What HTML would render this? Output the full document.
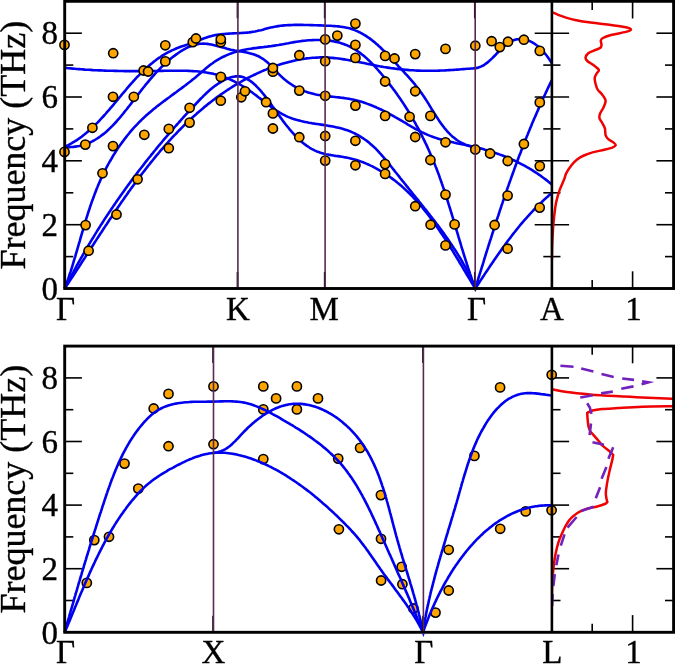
<!DOCTYPE html><html><head><meta charset="utf-8"><style>html,body{margin:0;padding:0;background:#fff;}svg{display:block;}text{font-family:"Liberation Serif",serif;stroke:#000;stroke-width:0.35px;}svg{will-change:transform;}</style></head><body>
<svg width="675" height="664" viewBox="0 0 675 664">
<rect width="675" height="664" fill="#fff"/>
<defs><clipPath id="ct"><rect x="64.7" y="1.3" width="487.2" height="287.2"/></clipPath><clipPath id="cb"><rect x="64.7" y="346.1" width="487.2" height="286.2"/></clipPath><clipPath id="cdt"><rect x="551.9" y="1.3" width="121.7" height="287.2"/></clipPath><clipPath id="cdb"><rect x="551.9" y="346.1" width="121.7" height="286.2"/></clipPath></defs>
<line x1="64.7" y1="256.6" x2="73.3" y2="256.6" stroke="#000" stroke-width="1.6"/>
<line x1="543.3" y1="256.6" x2="560.5" y2="256.6" stroke="#000" stroke-width="1.6"/>
<line x1="665.0" y1="256.6" x2="673.6" y2="256.6" stroke="#000" stroke-width="1.6"/>
<line x1="64.7" y1="224.7" x2="81.9" y2="224.7" stroke="#000" stroke-width="1.6"/>
<line x1="534.6999999999999" y1="224.7" x2="569.1" y2="224.7" stroke="#000" stroke-width="1.6"/>
<line x1="656.4" y1="224.7" x2="673.6" y2="224.7" stroke="#000" stroke-width="1.6"/>
<line x1="64.7" y1="192.8" x2="73.3" y2="192.8" stroke="#000" stroke-width="1.6"/>
<line x1="543.3" y1="192.8" x2="560.5" y2="192.8" stroke="#000" stroke-width="1.6"/>
<line x1="665.0" y1="192.8" x2="673.6" y2="192.8" stroke="#000" stroke-width="1.6"/>
<line x1="64.7" y1="160.8" x2="81.9" y2="160.8" stroke="#000" stroke-width="1.6"/>
<line x1="534.6999999999999" y1="160.8" x2="569.1" y2="160.8" stroke="#000" stroke-width="1.6"/>
<line x1="656.4" y1="160.8" x2="673.6" y2="160.8" stroke="#000" stroke-width="1.6"/>
<line x1="64.7" y1="128.9" x2="73.3" y2="128.9" stroke="#000" stroke-width="1.6"/>
<line x1="543.3" y1="128.9" x2="560.5" y2="128.9" stroke="#000" stroke-width="1.6"/>
<line x1="665.0" y1="128.9" x2="673.6" y2="128.9" stroke="#000" stroke-width="1.6"/>
<line x1="64.7" y1="97.0" x2="81.9" y2="97.0" stroke="#000" stroke-width="1.6"/>
<line x1="534.6999999999999" y1="97.0" x2="569.1" y2="97.0" stroke="#000" stroke-width="1.6"/>
<line x1="656.4" y1="97.0" x2="673.6" y2="97.0" stroke="#000" stroke-width="1.6"/>
<line x1="64.7" y1="65.1" x2="73.3" y2="65.1" stroke="#000" stroke-width="1.6"/>
<line x1="543.3" y1="65.1" x2="560.5" y2="65.1" stroke="#000" stroke-width="1.6"/>
<line x1="665.0" y1="65.1" x2="673.6" y2="65.1" stroke="#000" stroke-width="1.6"/>
<line x1="64.7" y1="33.2" x2="81.9" y2="33.2" stroke="#000" stroke-width="1.6"/>
<line x1="534.6999999999999" y1="33.2" x2="569.1" y2="33.2" stroke="#000" stroke-width="1.6"/>
<line x1="656.4" y1="33.2" x2="673.6" y2="33.2" stroke="#000" stroke-width="1.6"/>
<line x1="592.2" y1="288.5" x2="592.2" y2="279.9" stroke="#000" stroke-width="1.6"/>
<line x1="592.2" y1="1.3" x2="592.2" y2="9.9" stroke="#000" stroke-width="1.6"/>
<line x1="632.6" y1="288.5" x2="632.6" y2="271.3" stroke="#000" stroke-width="1.6"/>
<line x1="632.6" y1="1.3" x2="632.6" y2="18.5" stroke="#000" stroke-width="1.6"/>
<g fill="none" stroke="#0000f0" stroke-width="2.6" stroke-linejoin="round"><path d="M64.7,146.9 66.5,146.0 68.3,145.1 70.0,144.2 71.8,143.2 73.4,142.2 75.1,141.2 76.8,140.1 78.4,139.0 80.0,137.9 81.6,136.7 83.1,135.5 84.7,134.3 86.2,133.1 87.7,131.8 89.2,130.5 90.7,129.2 92.1,127.8 93.5,126.5 95.0,125.1 96.4,123.7 97.8,122.3 99.2,120.8 100.5,119.4 101.9,117.9 103.2,116.5 104.6,115.0 105.9,113.5 107.2,111.9 108.6,110.4 109.9,108.9 111.2,107.3 112.5,105.8 113.8,104.3 115.1,102.7 116.4,101.1 117.7,99.6 119.0,98.0 120.3,96.5 121.6,94.9 122.9,93.3 124.2,91.8 125.5,90.3 126.8,88.7 128.1,87.2 129.4,85.6 130.7,84.1 132.1,82.6 133.4,81.1 134.8,79.6 136.1,78.2 137.5,76.7 138.9,75.3 140.3,73.8 141.7,72.4 143.1,71.0 144.5,69.7 146.0,68.3 147.5,67.0 148.9,65.7 150.4,64.4 152.0,63.2 153.5,61.9 155.1,60.7 156.6,59.5 158.2,58.4 159.9,57.3 161.5,56.2 163.2,55.1 164.9,54.1 166.6,53.1 168.4,52.2 170.1,51.3 171.9,50.4 173.8,49.6 175.6,48.8 177.5,48.0 179.4,47.3 181.4,46.6 183.3,45.9 185.3,45.3 187.2,44.6 189.2,43.9 191.1,43.3 193.0,42.6 194.9,41.9 196.8,41.1 198.6,40.4 200.5,39.7 202.3,39.0 204.2,38.3 206.0,37.7 207.9,37.1 209.7,36.5 211.6,36.0 213.4,35.5 215.3,35.1 217.2,34.8 219.2,34.5 221.1,34.2 223.1,34.0 225.0,33.9 227.0,33.7 229.0,33.6 231.0,33.5 233.0,33.4 235.0,33.3 237.0,33.2 239.0,33.1 241.1,33.0 243.1,32.9 245.1,32.8 247.1,32.6 249.1,32.4 251.1,32.1 253.1,31.8 255.1,31.5 257.0,31.1 259.0,30.6 260.9,30.2 262.9,29.7 264.8,29.1 266.7,28.6 268.7,28.1 270.6,27.6 272.5,27.2 274.5,26.8 276.4,26.4 278.4,26.1 280.4,25.8 282.4,25.6 284.3,25.4 286.3,25.3 288.3,25.1 290.3,25.1 292.3,25.0 294.3,24.9 296.3,24.9 298.3,24.9 300.3,24.9 302.3,24.9 304.4,25.0 306.4,25.0 308.4,25.0 310.4,25.1 312.4,25.1 314.4,25.2 316.4,25.3 318.5,25.4 320.5,25.4 322.5,25.5 324.5,25.6 326.5,25.7 328.6,25.7 330.6,25.8 332.6,26.0 334.6,26.1 336.6,26.2 338.6,26.4 340.6,26.7 342.6,27.0 344.5,27.3 346.4,27.7 348.4,28.1 350.3,28.6 352.1,29.2 354.0,29.9 355.8,30.6 357.6,31.4 359.4,32.2 361.2,33.1 362.9,34.1 364.6,35.1 366.3,36.2 368.0,37.3 369.6,38.4 371.2,39.6 372.8,40.9 374.4,42.1 375.9,43.4 377.5,44.8 379.0,46.2 380.5,47.5 381.9,49.0 383.4,50.4 384.9,51.8 386.3,53.3 387.7,54.8 389.1,56.2 390.5,57.7 391.9,59.2 393.3,60.7 394.7,62.2 396.1,63.6 397.5,65.1 398.8,66.6 400.2,68.0 401.6,69.4 402.9,70.9 404.3,72.3 405.6,73.8 406.9,75.2 408.2,76.7 409.5,78.2 410.8,79.6 412.1,81.1 413.4,82.6 414.7,84.1 415.9,85.7 417.1,87.2 418.3,88.8 419.5,90.4 420.7,92.0 421.9,93.6 423.0,95.3 424.2,97.0 425.3,98.7 426.4,100.4 427.5,102.1 428.6,103.9 429.6,105.6 430.7,107.4 431.8,109.2 432.9,110.9 434.0,112.7 435.1,114.4 436.2,116.2 437.3,117.9 438.4,119.6 439.5,121.3 440.7,123.0 441.9,124.6 443.1,126.2 444.3,127.8 445.6,129.3 446.8,130.8 448.2,132.3 449.5,133.7 450.9,135.1 452.3,136.4 453.8,137.6 455.3,138.8 456.8,140.0 458.4,141.0 460.1,142.0 461.8,143.0 463.5,143.8 465.3,144.6 467.2,145.3 469.1,145.9 471.1,146.4 473.2,146.9 475.3,147.2"/><path d="M64.7,288.5 65.4,286.6 66.1,284.8 66.7,282.9 67.4,281.0 68.1,279.2 68.7,277.3 69.3,275.4 69.9,273.5 70.6,271.6 71.2,269.7 71.8,267.8 72.4,265.9 73.0,264.0 73.5,262.1 74.1,260.1 74.7,258.2 75.3,256.3 75.8,254.4 76.4,252.4 77.0,250.5 77.5,248.6 78.1,246.7 78.6,244.7 79.2,242.8 79.8,240.9 80.3,238.9 80.9,237.0 81.4,235.1 82.0,233.1 82.6,231.2 83.1,229.3 83.7,227.3 84.3,225.4 84.8,223.5 85.4,221.5 86.0,219.6 86.6,217.7 87.2,215.8 87.8,213.9 88.4,212.0 89.1,210.0 89.7,208.1 90.3,206.2 91.0,204.3 91.6,202.4 92.3,200.5 93.0,198.7 93.7,196.8 94.4,194.9 95.1,193.0 95.8,191.2 96.5,189.3 97.3,187.4 98.0,185.6 98.8,183.8 99.6,181.9 100.4,180.1 101.2,178.3 102.1,176.5 102.9,174.6 103.8,172.8 104.7,171.1 105.6,169.3 106.5,167.5 107.5,165.7 108.4,164.0 109.4,162.2 110.4,160.5 111.4,158.8 112.4,157.0 113.4,155.3 114.5,153.6 115.5,152.0 116.6,150.3 117.7,148.6 118.8,147.0 120.0,145.3 121.1,143.7 122.3,142.1 123.5,140.5 124.7,138.9 125.9,137.4 127.1,135.8 128.4,134.2 129.6,132.7 130.9,131.2 132.2,129.7 133.5,128.2 134.9,126.7 136.2,125.3 137.6,123.9 139.0,122.4 140.4,121.0 141.8,119.6 143.2,118.3 144.6,116.9 146.1,115.6 147.6,114.3 149.1,113.0 150.6,111.7 152.1,110.4 153.7,109.1 155.2,107.9 156.8,106.6 158.3,105.4 159.9,104.2 161.5,103.0 163.1,101.8 164.7,100.6 166.3,99.4 167.9,98.2 169.6,97.0 171.2,95.8 172.8,94.6 174.4,93.4 176.1,92.2 177.7,91.0 179.3,89.8 181.0,88.6 182.6,87.4 184.2,86.2 185.8,85.0 187.4,83.7 189.0,82.5 190.7,81.2 192.2,79.9 193.8,78.7 195.4,77.4 197.0,76.1 198.5,74.7 200.1,73.4 201.6,72.1 203.2,70.7 204.7,69.4 206.3,68.1 207.9,66.8 209.4,65.6 211.0,64.3 212.6,63.2 214.2,62.0 215.9,60.9 217.6,59.9 219.3,58.9 221.0,57.9 222.7,57.0 224.5,56.2 226.3,55.4 228.1,54.6 229.9,53.9 231.7,53.2 233.6,52.6 235.4,52.0 237.3,51.5 239.2,51.0 241.1,50.5 243.1,50.1 245.0,49.7 246.9,49.3 248.9,49.0 250.9,48.7 252.8,48.4 254.8,48.1 256.8,47.9 258.8,47.6 260.8,47.4 262.8,47.2 264.8,46.9 266.7,46.7 268.7,46.4 270.7,46.2 272.7,45.9 274.7,45.6 276.6,45.3 278.6,45.0 280.6,44.6 282.6,44.3 284.5,43.9 286.5,43.5 288.5,43.2 290.5,42.8 292.4,42.4 294.4,42.1 296.4,41.8 298.4,41.5 300.4,41.2 302.4,40.9 304.4,40.7 306.4,40.5 308.5,40.3 310.5,40.2 312.5,40.1 314.5,40.0 316.5,40.0 318.5,40.0 320.5,40.0 322.5,40.1 324.5,40.2 326.5,40.4 328.4,40.6 330.4,40.8 332.3,41.1 334.2,41.5 336.1,41.9 338.0,42.3 339.9,42.8 341.8,43.4 343.6,44.0 345.4,44.7 347.2,45.4 349.0,46.2 350.7,47.1 352.5,48.0 354.2,49.0 355.8,50.0 357.5,51.1 359.1,52.2 360.7,53.4 362.3,54.7 363.9,55.9 365.4,57.3 366.9,58.6 368.4,60.0 369.9,61.4 371.4,62.9 372.8,64.4 374.3,65.9 375.7,67.4 377.1,69.0 378.4,70.5 379.8,72.1 381.2,73.7 382.5,75.3 383.8,76.9 385.1,78.5 386.4,80.1 387.7,81.7 388.9,83.3 390.2,85.0 391.4,86.6 392.7,88.2 393.9,89.9 395.1,91.5 396.3,93.1 397.4,94.8 398.6,96.5 399.7,98.1 400.9,99.8 402.0,101.4 403.1,103.1 404.2,104.8 405.3,106.5 406.4,108.2 407.4,109.8 408.5,111.5 409.5,113.2 410.5,114.9 411.5,116.7 412.6,118.4 413.5,120.1 414.5,121.8 415.5,123.5 416.4,125.3 417.4,127.0 418.3,128.7 419.3,130.5 420.2,132.2 421.1,134.0 422.0,135.8 422.8,137.5 423.7,139.3 424.6,141.1 425.4,142.9 426.3,144.6 427.1,146.4 427.9,148.2 428.7,150.0 429.5,151.8 430.3,153.7 431.1,155.5 431.9,157.3 432.7,159.1 433.4,161.0 434.2,162.8 434.9,164.6 435.6,166.5 436.4,168.3 437.1,170.2 437.8,172.1 438.5,173.9 439.2,175.8 439.8,177.7 440.5,179.6 441.2,181.5 441.8,183.4 442.5,185.3 443.1,187.1 443.8,189.1 444.4,191.0 445.0,192.9 445.7,194.8 446.3,196.7 446.9,198.6 447.5,200.5 448.1,202.5 448.7,204.4 449.3,206.3 449.9,208.2 450.5,210.2 451.1,212.1 451.7,214.0 452.3,216.0 452.9,217.9 453.4,219.8 454.0,221.8 454.6,223.7 455.2,225.6 455.8,227.6 456.3,229.5 456.9,231.4 457.5,233.4 458.1,235.3 458.6,237.2 459.2,239.2 459.8,241.1 460.4,243.0 461.0,245.0 461.5,246.9 462.1,248.8 462.7,250.7 463.3,252.7 463.9,254.6 464.5,256.5 465.1,258.4 465.7,260.3 466.3,262.2 466.9,264.1 467.5,266.0 468.1,267.9 468.7,269.8 469.4,271.7 470.0,273.6 470.7,275.5 471.3,277.4 471.9,279.2 472.6,281.1 473.3,282.9 473.9,284.8 474.6,286.7 475.3,288.5"/><path d="M64.7,146.9 66.9,147.0 69.1,147.1 71.2,147.0 73.3,146.9 75.4,146.6 77.4,146.3 79.4,146.0 81.3,145.5 83.2,145.0 85.1,144.4 86.9,143.7 88.7,143.0 90.5,142.2 92.2,141.4 93.9,140.5 95.6,139.5 97.2,138.5 98.9,137.4 100.5,136.3 102.0,135.1 103.6,133.9 105.1,132.7 106.6,131.4 108.1,130.1 109.5,128.7 110.9,127.3 112.4,125.9 113.8,124.4 115.1,123.0 116.5,121.5 117.8,119.9 119.2,118.4 120.5,116.9 121.8,115.3 123.1,113.7 124.3,112.1 125.6,110.5 126.9,109.0 128.1,107.4 129.4,105.8 130.6,104.2 131.8,102.6 133.1,101.0 134.3,99.4 135.5,97.8 136.7,96.2 138.0,94.6 139.2,93.0 140.4,91.5 141.6,89.9 142.9,88.3 144.1,86.8 145.3,85.2 146.6,83.7 147.9,82.1 149.1,80.6 150.4,79.1 151.7,77.6 153.0,76.1 154.3,74.6 155.6,73.1 157.0,71.7 158.3,70.3 159.7,68.8 161.1,67.4 162.5,66.0 164.0,64.7 165.4,63.3 166.9,62.0 168.4,60.6 170.0,59.3 171.5,58.1 173.1,56.8 174.7,55.6 176.3,54.4 178.0,53.2 179.7,52.0 181.4,50.9 183.2,49.8 185.0,48.8 186.7,47.9 188.6,47.0 190.4,46.3 192.2,45.6 194.1,45.0 196.0,44.5 197.8,44.1 199.7,43.8 201.6,43.7 203.5,43.6 205.5,43.7 207.4,43.9 209.3,44.2 211.3,44.5 213.2,44.9 215.2,45.4 217.1,45.9 219.1,46.4 221.0,47.0 223.0,47.6 225.0,48.1 227.0,48.7 228.9,49.2 230.9,49.7 232.9,50.1 234.9,50.5 236.9,50.8 238.9,51.2 240.9,51.5 242.8,51.8 244.8,52.1 246.7,52.5 248.6,52.9 250.5,53.4 252.4,53.9 254.2,54.5 256.0,55.2 257.8,56.0 259.5,56.8 261.2,57.8 262.9,58.8 264.5,60.0 266.0,61.2 267.6,62.5 269.0,63.9 270.5,65.3 271.9,66.8 273.4,68.3 274.8,69.8 276.2,71.3 277.6,72.8 279.1,74.3 280.5,75.7 282.0,77.1 283.5,78.5 285.0,79.8 286.6,81.1 288.2,82.3 289.8,83.4 291.5,84.5 293.2,85.6 294.9,86.6 296.6,87.6 298.3,88.5 300.1,89.3 301.9,90.1 303.7,90.9 305.6,91.6 307.4,92.2 309.3,92.8 311.2,93.3 313.1,93.8 315.0,94.3 317.0,94.7 318.9,95.0 320.9,95.3 322.9,95.6 324.9,95.9 326.9,96.1 328.9,96.4 330.9,96.6 332.9,96.8 334.9,97.0 336.9,97.2 338.9,97.4 341.0,97.7 343.0,97.9 345.0,98.2 347.0,98.5 348.9,98.8 350.9,99.2 352.9,99.6 354.8,100.0 356.7,100.5 358.7,101.0 360.6,101.5 362.5,102.1 364.4,102.7 366.2,103.4 368.1,104.1 370.0,104.8 371.8,105.5 373.7,106.3 375.5,107.0 377.3,107.9 379.2,108.7 381.0,109.5 382.8,110.4 384.6,111.3 386.4,112.2 388.2,113.2 389.9,114.1 391.7,115.1 393.5,116.1 395.2,117.1 397.0,118.1 398.8,119.1 400.5,120.1 402.3,121.2 404.0,122.2 405.8,123.2 407.5,124.3 409.3,125.3 411.0,126.3 412.8,127.3 414.5,128.3 416.3,129.3 418.1,130.2 419.9,131.2 421.7,132.1 423.5,132.9 425.3,133.8 427.1,134.6 428.9,135.4 430.8,136.1 432.6,136.8 434.5,137.4 436.4,138.1 438.3,138.7 440.2,139.2 442.1,139.8 444.0,140.3 445.9,140.8 447.9,141.3 449.8,141.7 451.8,142.1 453.7,142.6 455.7,143.0 457.6,143.4 459.6,143.8 461.6,144.2 463.5,144.6 465.5,145.0 467.4,145.4 469.4,145.8 471.3,146.3 473.3,146.7 475.2,147.2 477.2,147.6 479.1,148.1 481.0,148.6 483.0,149.1 484.9,149.7 486.8,150.2 488.7,150.8 490.6,151.4 492.5,152.0 494.4,152.6 496.3,153.3 498.1,153.9 500.0,154.6 501.9,155.3 503.7,156.0 505.6,156.8 507.4,157.5 509.2,158.3 511.0,159.1 512.9,159.9 514.7,160.7 516.5,161.6 518.2,162.5 520.0,163.4 521.8,164.3 523.5,165.2 525.3,166.2 527.0,167.2 528.8,168.2 530.5,169.2 532.2,170.2 533.9,171.3 535.6,172.4 537.3,173.5 538.9,174.6 540.6,175.8 542.2,177.0 543.9,178.2 545.5,179.4 547.1,180.6 548.7,181.9 550.3,183.2 551.9,184.5"/><path d="M64.7,288.5 65.8,286.9 66.8,285.3 67.9,283.7 69.0,282.1 70.0,280.4 71.1,278.8 72.2,277.2 73.3,275.6 74.3,273.9 75.4,272.3 76.5,270.6 77.5,269.0 78.6,267.4 79.7,265.7 80.8,264.0 81.8,262.4 82.9,260.7 84.0,259.1 85.1,257.4 86.1,255.7 87.2,254.0 88.3,252.4 89.4,250.7 90.5,249.0 91.6,247.3 92.6,245.7 93.7,244.0 94.8,242.3 95.9,240.6 97.0,238.9 98.1,237.2 99.2,235.5 100.3,233.8 101.4,232.2 102.5,230.5 103.6,228.8 104.7,227.1 105.8,225.4 107.0,223.7 108.1,222.0 109.2,220.3 110.3,218.6 111.5,217.0 112.6,215.3 113.7,213.6 114.8,211.9 116.0,210.2 117.1,208.5 118.3,206.9 119.4,205.2 120.6,203.5 121.7,201.8 122.9,200.2 124.1,198.5 125.2,196.8 126.4,195.2 127.6,193.5 128.7,191.8 129.9,190.2 131.1,188.5 132.3,186.9 133.5,185.2 134.7,183.6 135.9,182.0 137.1,180.3 138.3,178.7 139.6,177.1 140.8,175.4 142.0,173.8 143.2,172.2 144.5,170.6 145.7,169.0 147.0,167.4 148.2,165.8 149.5,164.2 150.7,162.6 152.0,161.1 153.3,159.5 154.6,157.9 155.8,156.4 157.1,154.8 158.4,153.3 159.7,151.7 161.0,150.2 162.4,148.7 163.7,147.1 165.0,145.6 166.3,144.1 167.7,142.6 169.0,141.1 170.4,139.6 171.7,138.2 173.1,136.7 174.5,135.2 175.9,133.8 177.2,132.3 178.6,130.9 180.0,129.5 181.4,128.1 182.9,126.6 184.3,125.2 185.7,123.8 187.1,122.5 188.6,121.1 190.0,119.7 191.5,118.4 192.9,117.0 194.4,115.7 195.9,114.4 197.4,113.0 198.9,111.7 200.4,110.4 201.9,109.2 203.4,107.9 204.9,106.6 206.5,105.4 208.0,104.1 209.6,102.9 211.1,101.7 212.7,100.5 214.3,99.3 215.9,98.1 217.5,96.9 219.1,95.8 220.7,94.6 222.3,93.5 224.0,92.4 225.6,91.3 227.2,90.2 228.9,89.1 230.6,88.0 232.3,86.9 233.9,85.9 235.6,84.9 237.4,83.9 239.1,82.8 240.8,81.9 242.5,80.9 244.3,79.9 246.0,79.0 247.8,78.0 249.6,77.1 251.4,76.2 253.2,75.3 255.0,74.5 256.8,73.6 258.6,72.8 260.5,71.9 262.3,71.1 264.2,70.3 266.0,69.6 267.9,68.8 269.8,68.1 271.7,67.4 273.6,66.7 275.5,66.0 277.4,65.3 279.3,64.7 281.3,64.1 283.2,63.5 285.1,62.9 287.1,62.4 289.0,61.9 291.0,61.4 292.9,60.9 294.9,60.5 296.8,60.1 298.8,59.7 300.8,59.3 302.8,59.0 304.7,58.7 306.7,58.4 308.7,58.2 310.7,58.0 312.7,57.8 314.6,57.7 316.6,57.6 318.6,57.5 320.6,57.4 322.6,57.4 324.5,57.5 326.5,57.5 328.5,57.6 330.5,57.7 332.4,57.9 334.4,58.1 336.4,58.3 338.4,58.5 340.3,58.8 342.3,59.1 344.3,59.4 346.2,59.7 348.2,60.0 350.2,60.4 352.1,60.8 354.1,61.1 356.1,61.5 358.0,61.9 360.0,62.3 362.0,62.7 363.9,63.1 365.9,63.5 367.9,63.9 369.8,64.3 371.8,64.7 373.8,65.1 375.7,65.5 377.7,65.9 379.7,66.3 381.6,66.6 383.6,67.0 385.6,67.3 387.6,67.6 389.5,67.9 391.5,68.2 393.5,68.4 395.4,68.7 397.4,68.9 399.4,69.2 401.4,69.4 403.4,69.6 405.3,69.8 407.3,69.9 409.3,70.1 411.3,70.2 413.3,70.3 415.3,70.5 417.2,70.6 419.2,70.6 421.2,70.7 423.2,70.8 425.2,70.8 427.2,70.8 429.2,70.8 431.2,70.8 433.2,70.8 435.2,70.7 437.2,70.7 439.2,70.6 441.2,70.5 443.2,70.5 445.2,70.4 447.2,70.2 449.2,70.1 451.2,70.0 453.2,69.9 455.2,69.7 457.2,69.6 459.2,69.5 461.2,69.3 463.2,69.1 465.3,69.0 467.3,68.8 469.3,68.7 471.3,68.5 473.3,68.4 475.3,68.2"/><path d="M475.3,68.2 477.2,67.9 479.0,67.3 480.8,66.6 482.6,65.8 484.3,64.8 485.9,63.6 487.6,62.4 489.2,61.0 490.7,59.6 492.3,58.1 493.9,56.5 495.4,55.0 496.9,53.4 498.4,51.8 500.0,50.3 501.5,48.7 503.0,47.3 504.6,45.9 506.1,44.6 507.7,43.4 509.3,42.3 510.9,41.3 512.6,40.5 514.3,39.9 516.1,39.4 517.8,39.2 519.6,39.0 521.4,39.1 523.2,39.3 525.0,39.6 526.8,40.1 528.6,40.7 530.4,41.4 532.2,42.3 533.9,43.3 535.6,44.5 537.3,45.7 538.9,47.1 540.5,48.5 542.0,50.0 543.4,51.6 544.8,53.3 546.2,55.0 547.5,56.7 548.7,58.4 549.8,60.1 550.9,61.8 551.9,63.4"/><path d="M64.7,67.8 66.7,68.0 68.7,68.2 70.7,68.4 72.7,68.6 74.7,68.8 76.8,69.0 78.8,69.1 80.8,69.3 82.8,69.4 84.8,69.6 86.8,69.7 88.8,69.8 90.8,69.9 92.8,70.1 94.8,70.2 96.7,70.3 98.7,70.4 100.7,70.4 102.7,70.5 104.7,70.6 106.7,70.7 108.7,70.7 110.7,70.8 112.7,70.8 114.7,70.9 116.7,70.9 118.7,71.0 120.7,71.0 122.7,71.0 124.6,71.1 126.6,71.1 128.6,71.1 130.6,71.1 132.6,71.1 134.6,71.1 136.6,71.1 138.6,71.1 140.6,71.1 142.6,71.1 144.6,71.1 146.6,71.1 148.6,71.1 150.6,71.0 152.6,71.0 154.6,71.0 156.6,71.0 158.6,70.9 160.6,70.9 162.6,70.9 164.6,70.8 166.6,70.8 168.6,70.8 170.6,70.7 172.6,70.7 174.6,70.7 176.6,70.7 178.6,70.7 180.6,70.7 182.6,70.7 184.6,70.8 186.6,70.8 188.6,70.9 190.6,71.0 192.6,71.1 194.6,71.2 196.5,71.3 198.5,71.5 200.5,71.7 202.4,72.0 204.4,72.2 206.4,72.5 208.3,72.9 210.2,73.2 212.2,73.6 214.1,74.1 216.0,74.5 217.9,75.0 219.8,75.6 221.7,76.2 223.6,76.9 225.5,77.6 227.3,78.3 229.2,79.1 231.0,79.9 232.8,80.7 234.6,81.6 236.4,82.6 238.2,83.5 240.0,84.5 241.7,85.5 243.5,86.6 245.2,87.7 246.9,88.8 248.6,89.9 250.2,91.1 251.9,92.3 253.5,93.5 255.2,94.7 256.8,95.9 258.4,97.2 260.0,98.4 261.6,99.6 263.2,100.9 264.8,102.1 266.4,103.3 268.0,104.5 269.6,105.7 271.2,106.9 272.8,108.1 274.4,109.2 276.0,110.3 277.7,111.3 279.4,112.4 281.1,113.4 282.8,114.3 284.5,115.2 286.2,116.1 288.0,116.9 289.8,117.6 291.6,118.3 293.5,118.9 295.3,119.5 297.2,120.1 299.1,120.6 301.1,121.1 303.0,121.5 305.0,121.9 307.0,122.3 308.9,122.7 310.9,123.0 312.9,123.4 314.9,123.7 316.9,124.0 318.9,124.3 321.0,124.6 323.0,124.9 325.0,125.2 327.0,125.5 329.0,125.9 331.0,126.2 332.9,126.6 334.9,127.0 336.9,127.4 338.8,127.8 340.7,128.3 342.6,128.8 344.5,129.4 346.4,130.0 348.2,130.6 350.0,131.3 351.8,132.1 353.6,132.9 355.3,133.7 357.0,134.6 358.7,135.5 360.4,136.5 362.0,137.6 363.7,138.7 365.2,139.8 366.8,140.9 368.4,142.1 369.9,143.4 371.4,144.7 372.8,146.0 374.3,147.3 375.7,148.7 377.1,150.1 378.5,151.6 379.8,153.1 381.2,154.6 382.5,156.1 383.8,157.6 385.1,159.2 386.4,160.7 387.7,162.3 388.9,163.8 390.2,165.4 391.5,167.0 392.7,168.5 394.0,170.1 395.2,171.7 396.5,173.3 397.7,174.8 399.0,176.4 400.2,178.0 401.5,179.6 402.7,181.2 404.0,182.7 405.3,184.3 406.5,185.9 407.8,187.4 409.0,189.0 410.3,190.6 411.5,192.1 412.8,193.7 414.1,195.3 415.3,196.8 416.6,198.4 417.9,199.9 419.1,201.5 420.4,203.1 421.6,204.6 422.9,206.2 424.1,207.8 425.4,209.3 426.6,210.9 427.9,212.5 429.1,214.0 430.3,215.6 431.6,217.2 432.8,218.8 434.0,220.3 435.2,221.9 436.4,223.5 437.7,225.1 438.9,226.7 440.0,228.3 441.2,229.9 442.4,231.5 443.6,233.1 444.7,234.7 445.9,236.4 447.0,238.0 448.2,239.6 449.3,241.3 450.4,242.9 451.5,244.6 452.6,246.2 453.7,247.9 454.8,249.5 455.9,251.2 456.9,252.9 458.0,254.6 459.0,256.3 460.1,258.0 461.1,259.7 462.1,261.5 463.0,263.2 464.0,264.9 465.0,266.7 465.9,268.4 466.9,270.2 467.8,272.0 468.7,273.8 469.6,275.6 470.4,277.4 471.3,279.2 472.1,281.1 472.9,282.9 473.7,284.8 474.5,286.6 475.3,288.5"/><path d="M64.7,288.5 65.6,286.7 66.6,284.9 67.5,283.1 68.4,281.3 69.4,279.5 70.3,277.7 71.3,275.9 72.2,274.1 73.2,272.3 74.1,270.5 75.1,268.8 76.1,267.0 77.0,265.2 78.0,263.5 79.0,261.7 80.0,260.0 81.0,258.2 82.0,256.5 83.0,254.7 84.0,253.0 85.0,251.2 86.0,249.5 87.0,247.8 88.0,246.1 89.0,244.3 90.1,242.6 91.1,240.9 92.1,239.2 93.2,237.5 94.2,235.8 95.2,234.1 96.3,232.4 97.3,230.7 98.4,229.0 99.5,227.3 100.5,225.6 101.6,224.0 102.7,222.3 103.7,220.6 104.8,218.9 105.9,217.3 107.0,215.6 108.1,214.0 109.2,212.3 110.3,210.7 111.4,209.0 112.5,207.4 113.6,205.7 114.8,204.1 115.9,202.4 117.0,200.8 118.1,199.2 119.3,197.5 120.4,195.9 121.6,194.3 122.7,192.7 123.9,191.1 125.0,189.5 126.2,187.8 127.3,186.2 128.5,184.6 129.7,183.0 130.9,181.4 132.0,179.8 133.2,178.2 134.4,176.6 135.6,175.1 136.8,173.5 138.0,171.9 139.2,170.3 140.4,168.7 141.6,167.2 142.9,165.6 144.1,164.0 145.3,162.4 146.5,160.9 147.8,159.3 149.0,157.8 150.3,156.2 151.5,154.6 152.8,153.1 154.0,151.5 155.3,150.0 156.6,148.4 157.8,146.9 159.1,145.3 160.4,143.8 161.7,142.3 163.0,140.7 164.3,139.2 165.6,137.7 166.9,136.1 168.2,134.6 169.5,133.1 170.8,131.6 172.1,130.0 173.5,128.5 174.8,127.0 176.1,125.5 177.5,124.0 178.8,122.5 180.2,121.0 181.5,119.4 182.9,117.9 184.2,116.4 185.6,114.9 187.0,113.4 188.3,111.9 189.7,110.4 191.1,108.9 192.5,107.4 193.9,106.0 195.3,104.5 196.7,103.0 198.1,101.5 199.5,100.0 200.9,98.5 202.4,97.1 203.8,95.6 205.3,94.2 206.8,92.8 208.2,91.5 209.8,90.1 211.3,88.8 212.9,87.5 214.4,86.3 216.1,85.1 217.7,84.0 219.4,82.9 221.1,81.8 222.8,80.8 224.6,79.9 226.4,79.1 228.2,78.3 230.0,77.6 231.9,77.1 233.7,76.7 235.5,76.4 237.3,76.3 239.1,76.4 240.9,76.6 242.6,77.1 244.3,77.6 246.0,78.4 247.7,79.3 249.3,80.3 250.9,81.4 252.5,82.6 254.0,83.9 255.6,85.3 257.0,86.8 258.5,88.3 259.9,89.9 261.4,91.6 262.7,93.2 264.1,94.9 265.4,96.6 266.7,98.3 268.0,100.0 269.2,101.7 270.4,103.4 271.6,105.0 272.8,106.7 274.0,108.3 275.1,109.9 276.3,111.5 277.4,113.1 278.5,114.7 279.7,116.3 280.8,117.9 282.0,119.5 283.1,121.1 284.3,122.6 285.5,124.2 286.7,125.7 288.0,127.3 289.2,128.8 290.5,130.3 291.8,131.9 293.2,133.4 294.5,134.9 295.9,136.3 297.4,137.8 298.8,139.2 300.3,140.6 301.8,141.9 303.4,143.2 304.9,144.4 306.5,145.6 308.2,146.7 309.8,147.8 311.5,148.8 313.2,149.7 315.0,150.6 316.8,151.4 318.6,152.0 320.4,152.7 322.3,153.2 324.1,153.7 326.0,154.2 328.0,154.5 329.9,154.9 331.8,155.2 333.8,155.6 335.8,155.9 337.7,156.1 339.7,156.4 341.7,156.7 343.7,157.1 345.7,157.4 347.6,157.8 349.6,158.2 351.6,158.7 353.5,159.2 355.5,159.7 357.4,160.3 359.3,160.9 361.2,161.6 363.1,162.3 365.0,163.1 366.9,163.9 368.7,164.7 370.6,165.6 372.4,166.4 374.2,167.4 376.0,168.3 377.8,169.3 379.5,170.3 381.3,171.3 383.0,172.4 384.7,173.4 386.3,174.5 388.0,175.6 389.6,176.8 391.2,177.9 392.8,179.1 394.4,180.3 396.0,181.5 397.5,182.8 399.1,184.0 400.6,185.3 402.1,186.6 403.5,187.9 405.0,189.3 406.4,190.6 407.9,192.0 409.3,193.4 410.7,194.8 412.1,196.2 413.5,197.6 414.8,199.1 416.2,200.5 417.5,202.0 418.8,203.5 420.1,205.0 421.4,206.5 422.7,208.0 424.0,209.6 425.2,211.1 426.5,212.7 427.7,214.3 428.9,215.8 430.1,217.4 431.3,219.0 432.5,220.7 433.7,222.3 434.9,223.9 436.1,225.6 437.2,227.2 438.4,228.9 439.5,230.5 440.6,232.2 441.7,233.9 442.9,235.6 444.0,237.2 445.1,238.9 446.2,240.6 447.3,242.3 448.3,244.0 449.4,245.7 450.5,247.5 451.6,249.2 452.6,250.9 453.7,252.6 454.7,254.3 455.8,256.1 456.8,257.8 457.9,259.5 458.9,261.2 459.9,263.0 461.0,264.7 462.0,266.4 463.0,268.1 464.0,269.8 465.1,271.6 466.1,273.3 467.1,275.0 468.1,276.7 469.2,278.4 470.2,280.1 471.2,281.8 472.2,283.5 473.3,285.2 474.3,286.8 475.3,288.5"/><path d="M475.3,288.5 475.9,286.6 476.5,284.7 477.1,282.8 477.6,280.8 478.2,278.9 478.8,277.0 479.4,275.1 480.0,273.2 480.6,271.3 481.2,269.3 481.8,267.4 482.4,265.5 483.0,263.6 483.6,261.7 484.1,259.8 484.7,257.9 485.3,255.9 485.9,254.0 486.5,252.1 487.1,250.2 487.7,248.3 488.3,246.4 488.9,244.5 489.5,242.6 490.1,240.7 490.8,238.7 491.4,236.8 492.0,234.9 492.6,233.0 493.2,231.1 493.8,229.2 494.4,227.3 495.0,225.4 495.7,223.5 496.3,221.6 496.9,219.7 497.5,217.8 498.2,215.9 498.8,214.0 499.4,212.1 500.0,210.2 500.7,208.3 501.3,206.4 501.9,204.5 502.6,202.6 503.2,200.7 503.9,198.8 504.5,196.9 505.2,195.0 505.8,193.1 506.5,191.2 507.1,189.3 507.8,187.4 508.5,185.5 509.1,183.6 509.8,181.7 510.5,179.9 511.1,178.0 511.8,176.1 512.5,174.2 513.2,172.3 513.9,170.4 514.5,168.6 515.2,166.7 515.9,164.8 516.6,162.9 517.3,161.0 518.0,159.2 518.7,157.3 519.4,155.4 520.2,153.6 520.9,151.7 521.6,149.8 522.3,148.0 523.0,146.1 523.8,144.2 524.5,142.4 525.2,140.5 526.0,138.6 526.7,136.8 527.5,134.9 528.2,133.1 529.0,131.2 529.7,129.4 530.5,127.5 531.3,125.7 532.0,123.8 532.8,122.0 533.6,120.1 534.4,118.3 535.2,116.4 536.0,114.6 536.8,112.8 537.6,110.9 538.4,109.1 539.2,107.3 540.0,105.4 540.8,103.6 541.6,101.8 542.5,100.0 543.3,98.1 544.1,96.3 545.0,94.5 545.8,92.7 546.7,90.9 547.5,89.0 548.4,87.2 549.3,85.4 550.1,83.6 551.0,81.8 551.9,80.0"/><path d="M475.3,288.5 476.4,286.8 477.5,285.2 478.6,283.5 479.7,281.8 480.8,280.1 481.9,278.5 483.0,276.8 484.1,275.1 485.2,273.4 486.3,271.7 487.5,270.1 488.6,268.4 489.7,266.7 490.8,265.0 492.0,263.4 493.1,261.7 494.2,260.0 495.4,258.4 496.5,256.7 497.7,255.0 498.8,253.4 500.0,251.7 501.2,250.1 502.3,248.4 503.5,246.8 504.7,245.2 505.9,243.5 507.1,241.9 508.3,240.3 509.5,238.7 510.8,237.1 512.0,235.4 513.2,233.9 514.5,232.3 515.7,230.7 517.0,229.1 518.3,227.5 519.5,226.0 520.8,224.4 522.1,222.9 523.4,221.4 524.7,219.8 526.1,218.3 527.4,216.8 528.8,215.3 530.1,213.8 531.5,212.4 532.9,210.9 534.2,209.4 535.7,208.0 537.1,206.6 538.5,205.2 539.9,203.8 541.4,202.4 542.8,201.0 544.3,199.6 545.8,198.3 547.3,196.9 548.8,195.6 550.4,194.3 551.9,193.0"/></g>
<g fill="#ffa500" stroke="#000" stroke-width="1.6"><circle cx="64.5" cy="44.9" r="4.6"/><circle cx="113.2" cy="53.2" r="4.6"/><circle cx="143.6" cy="70.5" r="4.6"/><circle cx="148.1" cy="71.5" r="4.6"/><circle cx="113" cy="96.8" r="4.6"/><circle cx="133.8" cy="96.8" r="4.6"/><circle cx="64.5" cy="151.9" r="4.6"/><circle cx="85.3" cy="144.6" r="4.6"/><circle cx="92.4" cy="127.8" r="4.6"/><circle cx="113" cy="146.1" r="4.6"/><circle cx="144.3" cy="134.8" r="4.6"/><circle cx="102.5" cy="173.3" r="4.6"/><circle cx="137.6" cy="179.3" r="4.6"/><circle cx="85.6" cy="225.1" r="4.6"/><circle cx="88.6" cy="250.7" r="4.6"/><circle cx="116.5" cy="214.5" r="4.6"/><circle cx="165.3" cy="45.3" r="4.6"/><circle cx="165.3" cy="61.4" r="4.6"/><circle cx="192.8" cy="42.1" r="4.6"/><circle cx="196" cy="38.5" r="4.6"/><circle cx="220.8" cy="42.3" r="4.6"/><circle cx="220.8" cy="39.2" r="4.6"/><circle cx="220.8" cy="76.9" r="4.6"/><circle cx="168.8" cy="128.9" r="4.6"/><circle cx="168.8" cy="148.2" r="4.6"/><circle cx="189.6" cy="107.8" r="4.6"/><circle cx="189.6" cy="122.6" r="4.6"/><circle cx="220.8" cy="100.7" r="4.6"/><circle cx="241.3" cy="97.3" r="4.6"/><circle cx="245" cy="91.3" r="4.6"/><circle cx="266.1" cy="102.2" r="4.6"/><circle cx="272.9" cy="71.7" r="4.6"/><circle cx="272.9" cy="68" r="4.6"/><circle cx="272.9" cy="113.4" r="4.6"/><circle cx="272.9" cy="128.5" r="4.6"/><circle cx="299.3" cy="55.2" r="4.6"/><circle cx="299.3" cy="90.6" r="4.6"/><circle cx="299.3" cy="137.2" r="4.6"/><circle cx="325.2" cy="39.4" r="4.6"/><circle cx="325.2" cy="61.2" r="4.6"/><circle cx="325.2" cy="95.8" r="4.6"/><circle cx="325.2" cy="136" r="4.6"/><circle cx="325.2" cy="160.6" r="4.6"/><circle cx="337.3" cy="35.6" r="4.6"/><circle cx="355.4" cy="23.6" r="4.6"/><circle cx="355.4" cy="44.9" r="4.6"/><circle cx="355.4" cy="57.9" r="4.6"/><circle cx="355.4" cy="105.6" r="4.6"/><circle cx="355.4" cy="140.8" r="4.6"/><circle cx="355.4" cy="165.3" r="4.6"/><circle cx="385.1" cy="55.9" r="4.6"/><circle cx="394.5" cy="58.5" r="4.6"/><circle cx="385.1" cy="81.5" r="4.6"/><circle cx="385.1" cy="115.9" r="4.6"/><circle cx="385.1" cy="164.1" r="4.6"/><circle cx="385.1" cy="173.9" r="4.6"/><circle cx="415.2" cy="54.1" r="4.6"/><circle cx="415.2" cy="91.3" r="4.6"/><circle cx="409.6" cy="116.8" r="4.6"/><circle cx="415.2" cy="137" r="4.6"/><circle cx="430.4" cy="115.9" r="4.6"/><circle cx="430.4" cy="160" r="4.6"/><circle cx="445.5" cy="48.9" r="4.6"/><circle cx="445.5" cy="142.3" r="4.6"/><circle cx="415.2" cy="206.2" r="4.6"/><circle cx="430.6" cy="224.7" r="4.6"/><circle cx="445.5" cy="194.6" r="4.6"/><circle cx="454.6" cy="224.4" r="4.6"/><circle cx="445.5" cy="245.4" r="4.6"/><circle cx="475.3" cy="45.7" r="4.6"/><circle cx="475.3" cy="149.5" r="4.6"/><circle cx="491.6" cy="41.2" r="4.6"/><circle cx="499.8" cy="47.1" r="4.6"/><circle cx="508" cy="41.7" r="4.6"/><circle cx="523.9" cy="39.7" r="4.6"/><circle cx="539.8" cy="50.9" r="4.6"/><circle cx="539.8" cy="102.4" r="4.6"/><circle cx="490.1" cy="153.5" r="4.6"/><circle cx="507.7" cy="161" r="4.6"/><circle cx="523.9" cy="144" r="4.6"/><circle cx="539.8" cy="166.1" r="4.6"/><circle cx="494.6" cy="225" r="4.6"/><circle cx="507.6" cy="195.6" r="4.6"/><circle cx="507.6" cy="248.7" r="4.6"/><circle cx="539.7" cy="207.6" r="4.6"/></g>
<path d="M551.9,12.2C552.9,12.6 555.8,13.9 558.1,14.8C560.5,15.7 563.2,16.8 566.0,17.6C568.8,18.5 570.9,19.1 575.0,19.9C579.1,20.7 584.7,21.7 590.7,22.6C596.7,23.5 605.1,24.3 611.0,25.1C616.9,25.9 622.6,26.6 625.9,27.3C629.2,28.0 631.0,28.7 631.0,29.5C631.0,30.3 629.2,31.0 625.9,31.9C622.6,32.8 614.8,34.0 611.0,35.0C607.2,36.0 604.6,37.0 602.9,38.0C601.2,39.0 601.0,39.6 600.8,40.7C600.6,41.8 601.6,43.5 601.5,44.7C601.4,45.9 601.5,47.1 600.1,48.1C598.8,49.1 595.4,49.9 593.4,50.8C591.4,51.7 589.3,52.4 588.0,53.5C586.7,54.6 585.6,56.4 585.5,57.6C585.4,58.9 586.0,59.8 587.3,61.0C588.6,62.2 591.5,63.6 593.4,65.1C595.3,66.6 598.2,68.4 598.8,69.8C599.4,71.2 597.5,71.8 596.8,73.2C596.1,74.6 594.9,76.1 594.7,77.9C594.5,79.7 595.1,82.1 595.6,84.0C596.1,85.9 596.7,87.9 597.6,89.5C598.5,91.1 600.2,92.2 601.3,93.6C602.4,95.0 603.7,96.5 604.4,97.8C605.1,99.1 605.8,99.7 605.6,101.3C605.5,102.9 604.4,105.4 603.5,107.4C602.6,109.4 600.8,111.7 600.1,113.5C599.4,115.3 599.1,116.6 599.5,118.2C599.9,119.8 601.3,121.3 602.2,123.0C603.1,124.7 604.3,126.4 604.9,128.4C605.5,130.4 605.0,133.3 605.6,135.1C606.2,136.9 606.9,137.9 608.3,139.2C609.6,140.4 612.5,141.6 613.7,142.6C614.9,143.6 615.9,144.5 615.7,145.3C615.5,146.1 614.2,146.8 612.3,147.6C610.4,148.3 607.4,149.1 604.2,149.8C601.1,150.6 596.8,151.2 593.4,152.1C590.0,153.0 586.6,154.3 583.9,155.5C581.2,156.7 579.1,157.9 577.1,159.5C575.1,161.1 573.5,162.7 571.7,165.0C569.9,167.3 567.5,170.8 566.3,173.1C565.1,175.4 565.4,176.2 564.3,179.0C563.2,181.8 561.1,186.0 559.7,189.9C558.3,193.8 557.0,198.3 556.1,202.5C555.2,206.7 554.8,211.0 554.3,215.2C553.8,219.4 553.5,222.7 553.1,227.8C552.8,232.9 552.4,240.5 552.2,245.9C552.0,251.3 552.0,257.6 551.9,260.0" fill="none" stroke="#f00000" stroke-width="2.5" clip-path="url(#cdt)"/>
<line x1="237.5" y1="288.5" x2="237.5" y2="272.0" stroke="#000" stroke-width="1.7"/>
<line x1="237.5" y1="1.3" x2="237.5" y2="18.3" stroke="#000" stroke-width="1.7"/>
<line x1="324.70000000000005" y1="288.5" x2="324.70000000000005" y2="272.0" stroke="#000" stroke-width="1.7"/>
<line x1="324.70000000000005" y1="1.3" x2="324.70000000000005" y2="18.3" stroke="#000" stroke-width="1.7"/>
<line x1="474.8" y1="288.5" x2="474.8" y2="272.0" stroke="#000" stroke-width="1.7"/>
<line x1="474.8" y1="1.3" x2="474.8" y2="18.3" stroke="#000" stroke-width="1.7"/>
<line x1="237.9" y1="1.3" x2="237.9" y2="288.5" stroke="#5a2a4e" stroke-width="1.6"/>
<line x1="325.1" y1="1.3" x2="325.1" y2="288.5" stroke="#5a2a4e" stroke-width="1.6"/>
<line x1="475.2" y1="1.3" x2="475.2" y2="288.5" stroke="#5a2a4e" stroke-width="1.6"/>
<rect x="64.7" y="1.3" width="608.9" height="287.2" fill="none" stroke="#000" stroke-width="2.9"/>
<line x1="551.9" y1="1.3" x2="551.9" y2="288.5" stroke="#000" stroke-width="2.6"/>
<text x="58" y="299.7" font-size="33" text-anchor="end">0</text>
<text x="58" y="235.9" font-size="33" text-anchor="end">2</text>
<text x="58" y="172.0" font-size="33" text-anchor="end">4</text>
<text x="58" y="108.2" font-size="33" text-anchor="end">6</text>
<text x="58" y="44.4" font-size="33" text-anchor="end">8</text>
<text x="65.5" y="319.5" font-size="33" text-anchor="middle">Γ</text>
<text x="238" y="319.5" font-size="33" text-anchor="middle">K</text>
<text x="324.2" y="319.5" font-size="33" text-anchor="middle">M</text>
<text x="476.5" y="319.5" font-size="33" text-anchor="middle">Γ</text>
<text x="552" y="319.5" font-size="33" text-anchor="middle">A</text>
<text x="633.5" y="319.5" font-size="33" text-anchor="middle">1</text>
<text transform="translate(25,269.6) rotate(-90)" font-size="36">Frequency (THz)</text>
<line x1="64.7" y1="600.5" x2="73.3" y2="600.5" stroke="#000" stroke-width="1.6"/>
<line x1="551.9" y1="600.5" x2="560.5" y2="600.5" stroke="#000" stroke-width="1.6"/>
<line x1="665.0" y1="600.5" x2="673.6" y2="600.5" stroke="#000" stroke-width="1.6"/>
<line x1="64.7" y1="568.7" x2="81.9" y2="568.7" stroke="#000" stroke-width="1.6"/>
<line x1="551.9" y1="568.7" x2="569.1" y2="568.7" stroke="#000" stroke-width="1.6"/>
<line x1="656.4" y1="568.7" x2="673.6" y2="568.7" stroke="#000" stroke-width="1.6"/>
<line x1="64.7" y1="536.9" x2="73.3" y2="536.9" stroke="#000" stroke-width="1.6"/>
<line x1="551.9" y1="536.9" x2="560.5" y2="536.9" stroke="#000" stroke-width="1.6"/>
<line x1="665.0" y1="536.9" x2="673.6" y2="536.9" stroke="#000" stroke-width="1.6"/>
<line x1="64.7" y1="505.1" x2="81.9" y2="505.1" stroke="#000" stroke-width="1.6"/>
<line x1="551.9" y1="505.1" x2="569.1" y2="505.1" stroke="#000" stroke-width="1.6"/>
<line x1="656.4" y1="505.1" x2="673.6" y2="505.1" stroke="#000" stroke-width="1.6"/>
<line x1="64.7" y1="473.3" x2="73.3" y2="473.3" stroke="#000" stroke-width="1.6"/>
<line x1="551.9" y1="473.3" x2="560.5" y2="473.3" stroke="#000" stroke-width="1.6"/>
<line x1="665.0" y1="473.3" x2="673.6" y2="473.3" stroke="#000" stroke-width="1.6"/>
<line x1="64.7" y1="441.5" x2="81.9" y2="441.5" stroke="#000" stroke-width="1.6"/>
<line x1="551.9" y1="441.5" x2="569.1" y2="441.5" stroke="#000" stroke-width="1.6"/>
<line x1="656.4" y1="441.5" x2="673.6" y2="441.5" stroke="#000" stroke-width="1.6"/>
<line x1="64.7" y1="409.7" x2="73.3" y2="409.7" stroke="#000" stroke-width="1.6"/>
<line x1="551.9" y1="409.7" x2="560.5" y2="409.7" stroke="#000" stroke-width="1.6"/>
<line x1="665.0" y1="409.7" x2="673.6" y2="409.7" stroke="#000" stroke-width="1.6"/>
<line x1="64.7" y1="377.9" x2="81.9" y2="377.9" stroke="#000" stroke-width="1.6"/>
<line x1="551.9" y1="377.9" x2="569.1" y2="377.9" stroke="#000" stroke-width="1.6"/>
<line x1="656.4" y1="377.9" x2="673.6" y2="377.9" stroke="#000" stroke-width="1.6"/>
<line x1="592.2" y1="632.3" x2="592.2" y2="623.6999999999999" stroke="#000" stroke-width="1.6"/>
<line x1="592.2" y1="346.1" x2="592.2" y2="354.70000000000005" stroke="#000" stroke-width="1.6"/>
<line x1="632.6" y1="632.3" x2="632.6" y2="615.0999999999999" stroke="#000" stroke-width="1.6"/>
<line x1="632.6" y1="346.1" x2="632.6" y2="363.3" stroke="#000" stroke-width="1.6"/>
<g fill="#ffa500" stroke="#000" stroke-width="1.6"><circle cx="86.8" cy="582.9" r="4.6"/><circle cx="94.3" cy="540.1" r="4.6"/><circle cx="109" cy="536.8" r="4.6"/><circle cx="124.5" cy="463.6" r="4.6"/><circle cx="138.3" cy="488.6" r="4.6"/><circle cx="153.7" cy="408.5" r="4.6"/><circle cx="168.5" cy="393.9" r="4.6"/><circle cx="168.5" cy="446.2" r="4.6"/><circle cx="213.5" cy="386.4" r="4.6"/><circle cx="213.5" cy="444.2" r="4.6"/><circle cx="263.3" cy="386.4" r="4.6"/><circle cx="263.3" cy="409.4" r="4.6"/><circle cx="276.1" cy="398.4" r="4.6"/><circle cx="296.9" cy="386.4" r="4.6"/><circle cx="296.9" cy="409.4" r="4.6"/><circle cx="318" cy="398.4" r="4.6"/><circle cx="263.3" cy="459.1" r="4.6"/><circle cx="338.2" cy="458.6" r="4.6"/><circle cx="338.9" cy="529.3" r="4.6"/><circle cx="360.1" cy="447.9" r="4.6"/><circle cx="380.9" cy="495.1" r="4.6"/><circle cx="381" cy="538.8" r="4.6"/><circle cx="381.1" cy="580.5" r="4.6"/><circle cx="401.7" cy="566.8" r="4.6"/><circle cx="402.4" cy="584.2" r="4.6"/><circle cx="413.4" cy="608.5" r="4.6"/><circle cx="435.5" cy="612.6" r="4.6"/><circle cx="448.7" cy="590.5" r="4.6"/><circle cx="448.7" cy="549.8" r="4.6"/><circle cx="474.4" cy="455.9" r="4.6"/><circle cx="500.1" cy="387.4" r="4.6"/><circle cx="500.2" cy="528.8" r="4.6"/><circle cx="525.7" cy="511.4" r="4.6"/><circle cx="551.7" cy="374.8" r="4.6"/><circle cx="551.6" cy="510.3" r="4.6"/></g>
<g fill="none" stroke="#0000f0" stroke-width="2.6" stroke-linejoin="round"><path d="M64.7,632.3 65.2,630.4 65.8,628.4 66.3,626.5 66.9,624.5 67.4,622.6 68.0,620.7 68.5,618.7 69.1,616.8 69.6,614.9 70.2,612.9 70.7,611.0 71.3,609.1 71.9,607.2 72.4,605.2 73.0,603.3 73.5,601.4 74.1,599.5 74.6,597.5 75.2,595.6 75.7,593.7 76.3,591.8 76.9,589.9 77.4,588.0 78.0,586.0 78.5,584.1 79.1,582.2 79.7,580.3 80.2,578.4 80.8,576.5 81.4,574.6 81.9,572.7 82.5,570.8 83.1,568.8 83.7,566.9 84.2,565.0 84.8,563.1 85.4,561.2 86.0,559.3 86.5,557.4 87.1,555.5 87.7,553.6 88.3,551.7 88.9,549.8 89.4,547.9 90.0,546.0 90.6,544.1 91.2,542.2 91.8,540.2 92.4,538.3 93.0,536.4 93.6,534.5 94.2,532.6 94.8,530.7 95.4,528.8 96.0,526.9 96.6,525.0 97.2,523.1 97.8,521.2 98.4,519.3 99.0,517.4 99.6,515.5 100.2,513.6 100.9,511.7 101.5,509.8 102.1,507.8 102.7,505.9 103.4,504.0 104.0,502.1 104.6,500.2 105.3,498.3 105.9,496.4 106.5,494.5 107.2,492.6 107.8,490.7 108.5,488.8 109.2,486.9 109.9,485.0 110.5,483.1 111.2,481.2 111.9,479.3 112.7,477.5 113.4,475.6 114.1,473.7 114.9,471.9 115.6,470.0 116.4,468.2 117.2,466.3 118.0,464.5 118.8,462.6 119.6,460.8 120.5,459.0 121.4,457.2 122.2,455.4 123.1,453.6 124.0,451.9 125.0,450.1 125.9,448.3 126.9,446.6 127.9,444.9 128.9,443.2 129.9,441.4 131.0,439.7 132.1,438.1 133.2,436.4 134.3,434.7 135.4,433.1 136.6,431.5 137.8,429.9 139.0,428.3 140.3,426.7 141.6,425.1 142.9,423.6 144.2,422.0 145.6,420.6 147.0,419.1 148.4,417.7 149.8,416.4 151.3,415.0 152.9,413.8 154.4,412.6 156.0,411.5 157.6,410.4 159.3,409.4 161.0,408.5 162.7,407.6 164.5,406.9 166.3,406.2 168.2,405.5 170.0,405.0 171.9,404.5 173.8,404.0 175.8,403.6 177.7,403.3 179.7,403.0 181.7,402.7 183.6,402.5 185.6,402.3 187.6,402.2 189.6,402.0 191.7,401.9 193.7,401.8 195.7,401.8 197.7,401.7 199.8,401.7 201.8,401.7 203.8,401.7 205.9,401.7 207.9,401.6 210.0,401.6 212.0,401.6 214.1,401.6 216.1,401.5 218.2,401.5 220.2,401.4 222.2,401.4 224.3,401.3 226.3,401.3 228.3,401.3 230.3,401.3 232.4,401.4 234.3,401.5 236.3,401.6 238.3,401.8 240.2,402.0 242.2,402.3 244.1,402.6 246.0,403.0 247.9,403.5 249.8,404.0 251.6,404.6 253.5,405.2 255.3,405.9 257.1,406.6 258.9,407.3 260.7,408.1 262.5,408.9 264.3,409.7 266.1,410.6 267.8,411.5 269.6,412.4 271.4,413.3 273.1,414.3 274.9,415.3 276.6,416.2 278.4,417.2 280.1,418.2 281.9,419.3 283.6,420.3 285.4,421.3 287.1,422.3 288.9,423.3 290.6,424.4 292.4,425.4 294.1,426.5 295.8,427.6 297.6,428.6 299.3,429.7 301.0,430.8 302.7,431.9 304.4,433.0 306.1,434.2 307.7,435.3 309.4,436.4 311.1,437.6 312.7,438.8 314.3,440.0 316.0,441.2 317.6,442.4 319.2,443.6 320.7,444.8 322.3,446.1 323.8,447.4 325.4,448.6 326.9,449.9 328.4,451.3 329.8,452.6 331.3,454.0 332.7,455.3 334.1,456.7 335.5,458.1 336.9,459.5 338.3,461.0 339.6,462.4 340.9,463.9 342.2,465.4 343.4,466.9 344.7,468.5 345.9,470.0 347.1,471.6 348.2,473.2 349.4,474.8 350.5,476.4 351.7,478.0 352.8,479.7 353.8,481.3 354.9,483.0 356.0,484.7 357.0,486.4 358.0,488.1 359.0,489.8 360.0,491.5 361.0,493.3 362.0,495.0 362.9,496.8 363.9,498.6 364.8,500.3 365.7,502.1 366.6,503.9 367.5,505.7 368.4,507.5 369.3,509.3 370.2,511.1 371.1,513.0 371.9,514.8 372.8,516.6 373.6,518.4 374.5,520.3 375.3,522.1 376.1,523.9 377.0,525.8 377.8,527.6 378.6,529.5 379.5,531.3 380.3,533.2 381.1,535.0 381.9,536.8 382.7,538.7 383.5,540.5 384.4,542.3 385.2,544.2 386.0,546.0 386.8,547.8 387.6,549.7 388.4,551.5 389.2,553.3 390.1,555.1 390.9,557.0 391.7,558.8 392.5,560.6 393.3,562.4 394.1,564.3 394.9,566.1 395.7,567.9 396.5,569.7 397.3,571.5 398.1,573.4 398.9,575.2 399.8,577.0 400.6,578.8 401.4,580.6 402.1,582.5 402.9,584.3 403.7,586.1 404.5,587.9 405.3,589.8 406.1,591.6 406.9,593.4 407.7,595.3 408.5,597.1 409.3,598.9 410.0,600.8 410.8,602.6 411.6,604.4 412.4,606.3 413.1,608.1 413.9,610.0 414.7,611.8 415.5,613.7 416.2,615.5 417.0,617.4 417.7,619.2 418.5,621.1 419.3,622.9 420.0,624.8 420.8,626.7 421.5,628.5 422.3,630.4 423.0,632.3"/><path d="M64.7,632.3 65.5,630.5 66.2,628.7 67.0,626.9 67.8,625.0 68.5,623.2 69.3,621.4 70.1,619.5 70.8,617.7 71.6,615.9 72.3,614.0 73.1,612.2 73.9,610.3 74.6,608.5 75.4,606.6 76.2,604.8 76.9,602.9 77.7,601.1 78.5,599.2 79.2,597.3 80.0,595.5 80.8,593.6 81.6,591.8 82.4,589.9 83.2,588.0 83.9,586.2 84.7,584.3 85.5,582.5 86.3,580.6 87.2,578.8 88.0,576.9 88.8,575.1 89.6,573.2 90.4,571.4 91.3,569.6 92.1,567.7 93.0,565.9 93.8,564.1 94.7,562.2 95.5,560.4 96.4,558.6 97.3,556.8 98.2,555.0 99.1,553.2 100.0,551.4 100.9,549.6 101.8,547.8 102.7,546.0 103.7,544.2 104.6,542.4 105.6,540.7 106.5,538.9 107.5,537.2 108.5,535.4 109.5,533.7 110.5,532.0 111.5,530.2 112.5,528.5 113.6,526.8 114.6,525.1 115.7,523.4 116.7,521.8 117.8,520.1 118.9,518.4 120.0,516.8 121.1,515.1 122.3,513.5 123.4,511.9 124.6,510.3 125.8,508.7 126.9,507.1 128.1,505.5 129.4,503.9 130.6,502.4 131.8,500.8 133.1,499.3 134.4,497.8 135.7,496.3 137.0,494.8 138.3,493.3 139.7,491.9 141.1,490.5 142.5,489.1 143.9,487.7 145.3,486.3 146.8,485.0 148.3,483.7 149.9,482.5 151.4,481.2 153.0,480.0 154.6,478.9 156.3,477.7 157.9,476.6 159.6,475.5 161.3,474.4 163.0,473.3 164.7,472.3 166.5,471.3 168.2,470.2 170.0,469.2 171.8,468.3 173.6,467.3 175.3,466.3 177.1,465.4 179.0,464.5 180.8,463.6 182.6,462.7 184.4,461.8 186.2,460.9 188.1,460.1 189.9,459.3 191.8,458.6 193.6,457.8 195.5,457.1 197.4,456.5 199.3,455.9 201.1,455.3 203.0,454.8 205.0,454.3 206.9,453.9 208.8,453.5 210.7,453.2 212.7,453.0 214.6,452.8 216.6,452.7 218.6,452.6 220.6,452.6 222.6,452.7 224.6,452.8 226.5,453.0 228.5,453.2 230.5,453.5 232.5,453.8 234.5,454.1 236.5,454.5 238.5,455.0 240.5,455.4 242.5,456.0 244.5,456.5 246.4,457.1 248.4,457.7 250.3,458.3 252.2,459.0 254.1,459.7 256.0,460.4 257.9,461.2 259.8,461.9 261.6,462.7 263.5,463.5 265.3,464.4 267.1,465.2 268.9,466.1 270.6,466.9 272.4,467.9 274.2,468.8 275.9,469.7 277.7,470.7 279.4,471.7 281.1,472.6 282.8,473.7 284.5,474.7 286.2,475.7 287.9,476.8 289.6,477.9 291.2,479.0 292.9,480.1 294.6,481.2 296.2,482.3 297.9,483.5 299.5,484.6 301.1,485.8 302.8,487.0 304.4,488.2 306.0,489.4 307.6,490.6 309.2,491.8 310.8,493.1 312.3,494.3 313.9,495.6 315.5,496.9 317.0,498.1 318.6,499.4 320.1,500.7 321.6,502.1 323.1,503.4 324.7,504.7 326.2,506.0 327.7,507.4 329.1,508.7 330.6,510.1 332.1,511.4 333.6,512.8 335.0,514.2 336.5,515.5 337.9,516.9 339.3,518.3 340.7,519.7 342.2,521.1 343.6,522.5 345.0,523.9 346.3,525.3 347.7,526.7 349.1,528.1 350.4,529.5 351.7,531.0 353.1,532.5 354.4,533.9 355.7,535.4 357.0,536.9 358.2,538.4 359.5,539.9 360.7,541.5 361.9,543.1 363.1,544.6 364.3,546.2 365.5,547.8 366.7,549.5 367.9,551.1 369.0,552.7 370.2,554.4 371.3,556.0 372.5,557.7 373.6,559.3 374.8,561.0 375.9,562.6 377.0,564.3 378.2,566.0 379.3,567.6 380.5,569.3 381.7,570.9 382.8,572.5 384.0,574.2 385.2,575.8 386.4,577.4 387.6,579.0 388.8,580.6 390.0,582.2 391.2,583.8 392.4,585.4 393.6,587.0 394.7,588.6 395.9,590.2 397.1,591.8 398.3,593.4 399.5,595.1 400.7,596.7 401.9,598.3 403.0,599.9 404.2,601.5 405.4,603.1 406.5,604.8 407.6,606.4 408.8,608.1 409.9,609.7 411.0,611.4 412.1,613.1 413.1,614.8 414.2,616.4 415.3,618.2 416.3,619.9 417.3,621.6 418.3,623.4 419.3,625.1 420.2,626.9 421.2,628.7 422.1,630.5 423.0,632.3"/><path d="M213.5,452.9 215.7,452.6 217.7,452.2 219.7,451.6 221.5,450.9 223.3,450.2 225.0,449.3 226.6,448.3 228.1,447.3 229.6,446.2 231.1,445.0 232.5,443.7 233.8,442.4 235.2,441.1 236.5,439.7 237.9,438.3 239.2,436.8 240.5,435.4 241.9,433.9 243.3,432.4 244.7,431.0 246.2,429.5 247.6,428.0 249.2,426.6 250.7,425.2 252.3,423.8 253.9,422.4 255.5,421.1 257.2,419.8 258.9,418.5 260.6,417.2 262.3,416.0 264.0,414.8 265.8,413.7 267.6,412.6 269.4,411.6 271.2,410.6 273.0,409.7 274.8,408.8 276.7,408.0 278.6,407.2 280.4,406.6 282.3,405.9 284.2,405.4 286.1,404.9 288.0,404.6 289.9,404.2 291.8,404.0 293.7,403.8 295.6,403.8 297.5,403.7 299.4,403.8 301.3,403.9 303.2,404.1 305.1,404.4 307.0,404.7 308.9,405.0 310.8,405.5 312.6,406.0 314.5,406.5 316.3,407.1 318.2,407.8 320.0,408.5 321.8,409.3 323.6,410.1 325.4,411.0 327.2,411.9 328.9,412.9 330.7,413.9 332.4,414.9 334.1,416.0 335.8,417.1 337.5,418.3 339.1,419.5 340.7,420.8 342.3,422.0 343.9,423.4 345.4,424.7 346.9,426.1 348.4,427.5 349.9,428.9 351.3,430.3 352.7,431.8 354.1,433.3 355.4,434.8 356.7,436.4 357.9,437.9 359.2,439.5 360.4,441.1 361.6,442.7 362.7,444.3 363.8,446.0 364.9,447.6 365.9,449.3 367.0,451.0 368.0,452.7 368.9,454.4 369.9,456.2 370.8,457.9 371.7,459.7 372.6,461.5 373.5,463.3 374.3,465.1 375.1,466.9 375.9,468.7 376.7,470.5 377.4,472.4 378.2,474.2 378.9,476.1 379.6,478.0 380.3,479.9 380.9,481.8 381.6,483.7 382.2,485.6 382.9,487.5 383.5,489.4 384.1,491.3 384.7,493.2 385.3,495.2 385.8,497.1 386.4,499.1 386.9,501.0 387.5,503.0 388.0,504.9 388.6,506.9 389.1,508.8 389.6,510.8 390.1,512.8 390.7,514.7 391.2,516.7 391.7,518.6 392.2,520.6 392.7,522.6 393.2,524.5 393.7,526.5 394.3,528.4 394.8,530.4 395.3,532.3 395.8,534.3 396.3,536.2 396.9,538.2 397.4,540.1 398.0,542.0 398.5,543.9 399.1,545.9 399.6,547.8 400.2,549.7 400.7,551.6 401.3,553.5 401.9,555.4 402.4,557.3 403.0,559.2 403.6,561.1 404.2,563.0 404.8,564.9 405.3,566.8 405.9,568.7 406.5,570.6 407.1,572.5 407.7,574.4 408.2,576.2 408.8,578.1 409.4,580.0 410.0,581.9 410.5,583.8 411.1,585.7 411.7,587.6 412.2,589.5 412.8,591.4 413.3,593.3 413.9,595.2 414.4,597.1 415.0,599.0 415.5,601.0 416.0,602.9 416.5,604.8 417.1,606.7 417.6,608.7 418.1,610.6 418.6,612.5 419.0,614.5 419.5,616.4 420.0,618.4 420.5,620.4 420.9,622.3 421.3,624.3 421.8,626.3 422.2,628.3 422.6,630.3 423.0,632.3"/><path d="M423.0,632.3 423.3,630.3 423.6,628.3 423.9,626.2 424.3,624.2 424.6,622.2 424.9,620.2 425.3,618.2 425.7,616.2 426.0,614.2 426.4,612.3 426.8,610.3 427.2,608.3 427.6,606.3 428.1,604.4 428.5,602.4 428.9,600.4 429.4,598.5 429.8,596.5 430.3,594.6 430.7,592.6 431.2,590.7 431.7,588.7 432.2,586.8 432.7,584.9 433.2,582.9 433.7,581.0 434.2,579.1 434.7,577.1 435.2,575.2 435.7,573.3 436.2,571.4 436.8,569.4 437.3,567.5 437.9,565.6 438.4,563.7 438.9,561.8 439.5,559.9 440.1,557.9 440.6,556.0 441.2,554.1 441.7,552.2 442.3,550.3 442.9,548.4 443.4,546.5 444.0,544.6 444.6,542.6 445.2,540.7 445.7,538.8 446.3,536.9 446.9,535.0 447.5,533.1 448.0,531.2 448.6,529.2 449.2,527.3 449.8,525.4 450.4,523.5 450.9,521.6 451.5,519.6 452.1,517.7 452.7,515.8 453.2,513.9 453.8,511.9 454.4,510.0 455.0,508.1 455.5,506.1 456.1,504.2 456.7,502.3 457.2,500.3 457.8,498.4 458.3,496.4 458.9,494.5 459.4,492.5 460.0,490.5 460.5,488.6 461.1,486.6 461.6,484.7 462.2,482.7 462.8,480.8 463.3,478.8 463.9,476.9 464.5,474.9 465.1,473.0 465.7,471.0 466.3,469.1 466.9,467.2 467.5,465.2 468.1,463.3 468.8,461.4 469.4,459.5 470.1,457.6 470.8,455.7 471.5,453.8 472.2,451.9 472.9,450.0 473.7,448.1 474.4,446.3 475.2,444.4 476.0,442.6 476.8,440.8 477.6,438.9 478.5,437.1 479.4,435.3 480.3,433.5 481.2,431.8 482.2,430.0 483.2,428.3 484.2,426.5 485.2,424.8 486.2,423.1 487.3,421.4 488.4,419.7 489.6,418.1 490.8,416.4 492.0,414.8 493.2,413.2 494.5,411.7 495.8,410.2 497.1,408.7 498.5,407.3 499.9,405.9 501.3,404.5 502.8,403.2 504.3,402.0 505.8,400.8 507.4,399.7 509.0,398.7 510.7,397.8 512.3,396.9 514.1,396.1 515.8,395.4 517.6,394.8 519.5,394.2 521.4,393.8 523.3,393.5 525.2,393.2 527.2,393.1 529.3,393.1 531.3,393.1 533.4,393.2 535.5,393.4 537.6,393.6 539.7,393.9 541.8,394.2 543.9,394.4 545.9,394.7 547.9,395.0 549.9,395.3 551.9,395.5"/><path d="M423.0,632.3 423.6,630.5 424.3,628.7 424.9,626.9 425.6,625.1 426.3,623.3 427.0,621.5 427.7,619.7 428.4,617.9 429.1,616.1 429.9,614.2 430.7,612.4 431.4,610.6 432.2,608.7 433.1,606.9 433.9,605.1 434.7,603.2 435.6,601.4 436.4,599.6 437.3,597.7 438.2,595.9 439.1,594.1 440.1,592.2 441.0,590.4 442.0,588.6 442.9,586.8 443.9,585.0 444.9,583.2 445.9,581.4 447.0,579.6 448.0,577.8 449.1,576.0 450.1,574.3 451.2,572.5 452.3,570.8 453.4,569.0 454.6,567.3 455.7,565.6 456.9,563.9 458.1,562.2 459.3,560.5 460.5,558.9 461.7,557.2 463.0,555.6 464.2,554.0 465.5,552.4 466.8,550.8 468.1,549.2 469.4,547.6 470.7,546.1 472.1,544.6 473.4,543.1 474.8,541.6 476.2,540.1 477.6,538.7 479.1,537.3 480.5,535.9 482.0,534.5 483.4,533.1 484.9,531.8 486.4,530.5 488.0,529.2 489.5,527.9 491.1,526.7 492.6,525.5 494.2,524.3 495.8,523.1 497.5,522.0 499.1,520.9 500.7,519.8 502.4,518.8 504.1,517.8 505.8,516.8 507.5,515.9 509.3,515.0 511.0,514.1 512.8,513.2 514.6,512.5 516.4,511.7 518.2,511.0 520.1,510.3 521.9,509.6 523.8,509.0 525.7,508.5 527.6,508.0 529.5,507.5 531.5,507.1 533.4,506.7 535.4,506.3 537.4,506.1 539.4,505.8 541.5,505.6 543.5,505.5 545.6,505.4 547.7,505.3 549.8,505.3 551.9,505.4"/></g>
<path d="M551.9,389.3C554.4,389.7 560.4,391.0 566.8,391.9C573.1,392.8 582.0,393.7 590.0,394.4C598.0,395.1 606.3,395.6 615.0,396.1C623.7,396.6 632.6,397.1 642.1,397.5C651.6,397.9 664.0,398.5 672.0,398.8C680.0,399.1 687.0,399.4 690.0,399.5" fill="none" stroke="#f00000" stroke-width="2.5" clip-path="url(#cdb)"/>
<path d="M690.0,406.0C687.0,406.1 680.0,406.2 672.0,406.3C664.0,406.4 651.1,406.5 642.1,406.8C633.1,407.1 624.7,407.7 618.0,408.1C611.3,408.5 606.4,408.7 602.1,409.1C597.9,409.5 595.0,409.9 592.5,410.5C590.0,411.1 588.1,412.5 587.2,412.9L587.2,412.9C587.3,413.9 587.4,416.9 587.6,419.2C587.8,421.5 588.1,424.8 588.6,426.9C589.1,429.0 590.2,430.9 590.5,431.7L590.5,431.7C591.6,433.0 595.2,437.0 597.3,439.4C599.4,441.8 601.0,444.2 603.1,446.2C605.2,448.2 608.1,450.1 609.8,451.5C611.5,452.9 612.6,454.3 613.2,454.9L613.2,454.9C613.0,455.8 612.8,457.6 612.2,460.3C611.6,463.0 610.4,467.3 609.6,470.8C608.8,474.3 608.0,477.9 607.4,481.4C606.8,484.9 606.1,489.1 605.9,491.9C605.7,494.7 606.1,496.5 606.4,498.2C606.6,499.9 607.2,501.4 607.4,502.0L607.4,502.0C607.0,502.3 606.6,503.2 604.8,504.0C603.0,504.8 598.7,506.1 596.4,506.7C594.1,507.3 593.2,507.2 591.1,507.7C589.0,508.2 586.0,509.0 583.7,509.9C581.4,510.8 579.3,511.8 577.4,513.0C575.5,514.2 573.7,515.7 572.1,517.2C570.5,518.7 569.4,520.0 568.0,522.0C566.6,524.0 565.4,526.1 563.8,529.5C562.2,532.9 559.9,537.9 558.5,542.1C557.1,546.3 556.3,550.1 555.4,554.7C554.5,559.3 553.8,564.6 553.3,569.5C552.8,574.4 552.4,579.1 552.2,584.2C552.0,589.3 552.0,597.4 551.9,600.0" fill="none" stroke="#f00000" stroke-width="2.5" stroke-linejoin="round" clip-path="url(#cdb)"/>
<g fill="none" stroke="#7221bc" stroke-width="2.6" stroke-miterlimit="12" clip-path="url(#cdb)"><polyline points="560.4,365.7 573.5,366.7"/><polyline points="581.2,368.6 593.4,371.5"/><polyline points="601.5,374 613.7,377.1"/><polyline points="622.2,378.5 634,379.9"/><polyline points="642.1,381.2 648.5,382.3 641.6,384.2"/><polyline points="633.5,386.4 621.3,388.7"/><polyline points="612.8,391.6 601.1,393.4"/><polyline points="592.9,395.2 580.3,397.5"/><polyline points="587.2,403.3 589.8,407.5 591.5,413.9"/><polyline points="591,423.5 590.3,429 589.6,435.1"/><polyline points="592.5,442.3 604,444.7"/><polyline points="613.2,447.2 608.4,458.7"/><polyline points="606.4,467.1 601.6,478.7"/><polyline points="600.1,487.2 595.8,498.2"/><polyline points="593.7,506.7 581.1,511"/><polyline points="576.6,517 567.5,527.6"/><polyline points="564.5,534.3 560.8,545.6"/><polyline points="558.5,554.6 556.3,565.2"/><polyline points="554.8,574.2 553.3,586.2"/><polyline points="552.6,594 552.2,606"/></g>
<line x1="213.1" y1="632.3" x2="213.1" y2="615.8" stroke="#000" stroke-width="1.7"/>
<line x1="213.1" y1="346.1" x2="213.1" y2="363.1" stroke="#000" stroke-width="1.7"/>
<line x1="423.0" y1="632.3" x2="423.0" y2="615.8" stroke="#000" stroke-width="1.7"/>
<line x1="423.0" y1="346.1" x2="423.0" y2="363.1" stroke="#000" stroke-width="1.7"/>
<line x1="213.5" y1="346.1" x2="213.5" y2="632.3" stroke="#5a2a4e" stroke-width="1.6"/>
<line x1="423.4" y1="346.1" x2="423.4" y2="632.3" stroke="#5a2a4e" stroke-width="1.6"/>
<rect x="64.7" y="346.1" width="608.9" height="286.19999999999993" fill="none" stroke="#000" stroke-width="2.9"/>
<line x1="551.9" y1="346.1" x2="551.9" y2="632.3" stroke="#000" stroke-width="2.6"/>
<text x="58" y="643.5" font-size="33" text-anchor="end">0</text>
<text x="58" y="579.9" font-size="33" text-anchor="end">2</text>
<text x="58" y="516.3" font-size="33" text-anchor="end">4</text>
<text x="58" y="452.7" font-size="33" text-anchor="end">6</text>
<text x="58" y="389.1" font-size="33" text-anchor="end">8</text>
<text x="65.5" y="663.3" font-size="33" text-anchor="middle">Γ</text>
<text x="213.3" y="663.3" font-size="33" text-anchor="middle">X</text>
<text x="423.7" y="663.3" font-size="33" text-anchor="middle">Γ</text>
<text x="552.4" y="663.3" font-size="33" text-anchor="middle">L</text>
<text x="633.5" y="663.3" font-size="33" text-anchor="middle">1</text>
<text transform="translate(25,613.6) rotate(-90)" font-size="36">Frequency (THz)</text>
<path d="M422.1,633.6 L424.7,633.6 L423.4,637.2 Z" fill="#1010e0"/>
<path d="M474.2,290 L476.4,290 L475.3,292 Z" fill="#202070"/>
</svg></body></html>
